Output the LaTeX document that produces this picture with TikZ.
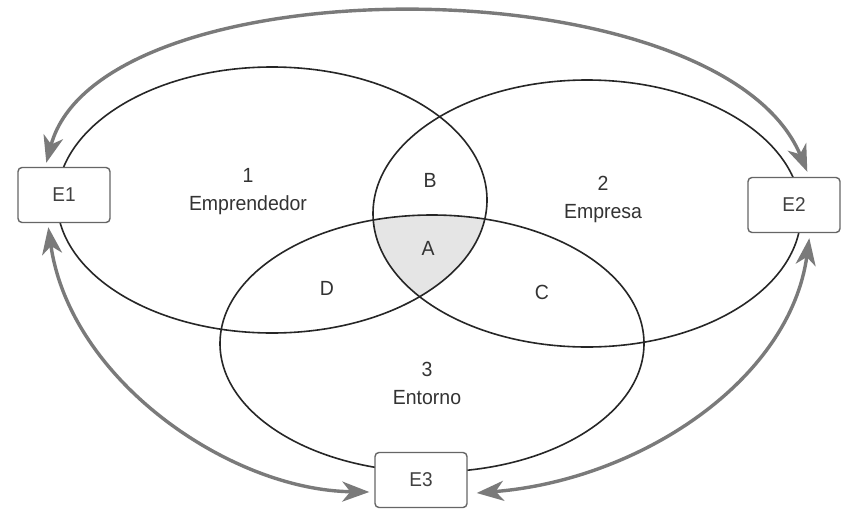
\documentclass[tikz,border=0pt]{standalone}
\usepackage{fontspec}
\setmainfont[FakeStretch=0.95]{Liberation Sans}
\usetikzlibrary{arrows.meta,calc}
\tikzset{tipe/.tip={Stealth[length=27pt,width=20pt,inset=8pt]}}
\begin{document}
\begin{tikzpicture}[x=1pt,y=-1pt,
  venn/.style={draw=black!85, line width=1.6pt},
  ebox/.style={draw=black!60, line width=1.4pt, rounded corners=4pt, fill=white,
    minimum width=92pt, minimum height=55pt, inner sep=0pt,
    font=\fontsize{20}{22}\selectfont, text=black!75},
  lbl/.style={font=\fontsize{20.5}{28}\selectfont, text=black!80, align=center},
  link/.style={draw=black!52, line width=3.4pt, {tipe}-{tipe}}]
\useasboundingbox (0,0) rectangle (848,525);
\fill[white] (0,0) rectangle (848,525);

% region A
\begin{scope}
  \clip (272,200) ellipse [x radius=215pt, y radius=133pt];
  \clip (587,213.5) ellipse [x radius=214pt, y radius=133.5pt];
  \fill[black!10] (432,343.5) ellipse [x radius=212pt, y radius=128.5pt];
\end{scope}

% circles
\draw[venn] (272,200) ellipse [x radius=215pt, y radius=133pt];
\draw[venn] (587,213.5) ellipse [x radius=214pt, y radius=133.5pt];
\draw[venn] (432,343.5) ellipse [x radius=212pt, y radius=128.5pt];

% labels
\node[lbl] (l1) at (248,191.5) {1\\Emprendedor};
\node[lbl] (l2) at (603,199) {2\\Empresa};
\node[lbl] (l3) at (427,383.5) {3\\Entorno};
\node[lbl] (lB) at (430,180) {B};
\node[lbl] (lA) at (428,248) {A};
\node[lbl] (lD) at (327,288) {D};
\node[lbl] (lC) at (542,292) {C};

% boxes
\node[ebox] (E1) at (64,195) {E1};
\node[ebox] (E2) at (794,205) {E2};
\node[ebox] (E3) at (421,480) {E3};

% connector end points
\coordinate (t1) at ($(E1.north west)+(29,-4)$);
\coordinate (t2) at ($(E2.north west)+(60,-5)$);
\coordinate (b1) at ($(E1.south west)+(31,4)$);
\coordinate (b2) at ($(E2.south west)+(62,5)$);
\coordinate (l3) at ($(E3.west)+(-5,12)$);
\coordinate (r3) at ($(E3.east)+(9,13)$);

\draw[link] (t1) .. controls (100,-38) and (720,-38) .. (t2);
\draw[link] (b1) .. controls (70,380) and (230,490) .. (l3);
\draw[link] (r3) .. controls (640,480) and (790,380) .. (b2);
\end{tikzpicture}
\end{document}
